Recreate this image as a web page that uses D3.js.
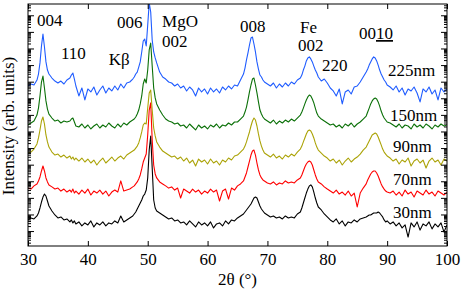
<!DOCTYPE html>
<html>
<head>
<meta charset="utf-8">
<script src="https://cdn.jsdelivr.net/npm/d3@7"></script>
<style>
body { margin: 0; background: #fff; }
</style>
</head>
<body>
<script>
// 2theta positions (finer around the peaks)
var twoTheta = [
  30, 30.5, 31, 31.5,
  31.75, 32, 32.25, 32.5, 32.75, 33, 33.25, 33.5,
  34, 34.5, 35, 35.5, 36, 36.5,
  37, 37.25, 37.5, 37.75, 38,
  38.5, 39, 39.5, 40, 40.5, 41, 41.5, 42, 42.5, 43, 43.5, 44, 44.5, 45, 45.5, 46, 46.5, 47, 47.5,
  47.75, 48, 48.25, 48.5, 48.75, 49, 49.25, 49.5, 49.75, 50, 50.25, 50.5, 50.75, 51, 51.25, 51.5,
  52, 52.5, 53, 53.5, 54, 54.5, 55, 55.5, 56, 56.5, 57, 57.5, 58, 58.5, 59, 59.5, 60, 60.5, 61, 61.5, 62, 62.5, 63, 63.5, 64, 64.5, 65, 65.5, 66,
  66.25, 66.5, 66.75, 67, 67.25, 67.5, 67.75, 68, 68.25, 68.5, 68.75, 69, 69.25, 69.5,
  70, 70.5, 71, 71.5, 72, 72.5, 73, 73.5, 74, 74.5, 75, 75.5,
  75.75, 76, 76.25, 76.5, 76.75, 77, 77.25, 77.5, 77.75, 78, 78.25, 78.5,
  79, 79.5, 80, 80.5, 81, 81.5, 82, 82.5, 83, 83.5, 84, 84.5, 85, 85.5, 86, 86.5,
  86.75, 87, 87.25, 87.5, 87.75, 88, 88.25, 88.5, 88.75, 89, 89.25, 89.5, 89.75, 90,
  90.5, 91, 91.5, 92, 92.5, 93, 93.5, 94, 94.5, 95, 95.5, 96, 96.5, 97, 97.5, 98, 98.5, 99, 99.5, 100
];

// log10(intensity), curves already shifted as in the figure
var log225 = [
  9.74, 9.86, 9.80, 10.10,
  10.46, 11.13, 12.15, 12.87, 12.09, 11.19, 10.70, 10.46,
  10.22, 10.04, 9.92, 10.04, 9.86, 10.10,
  10.22, 10.40, 10.52, 10.16, 9.74,
  9.14, 9.62, 8.90, 9.56, 9.38, 9.68, 9.20, 9.50, 9.74, 9.32, 9.62, 9.44, 9.74, 9.50, 9.86, 9.62, 9.92, 9.98, 10.16,
  10.28, 10.46, 10.58, 10.88, 11.19, 11.79, 12.45, 12.57, 12.15, 13.41, 14.75, 14.20, 12.51, 11.79, 11.43, 11.13,
  10.58, 10.28, 10.16, 9.98, 9.92, 9.74, 9.86, 9.62, 9.74, 9.44, 9.68, 9.50, 9.14, 9.62, 9.38, 9.56, 9.26, 9.62, 9.38, 9.56, 9.32, 9.68, 9.50, 9.74, 9.56, 9.80, 9.74, 10.10, 10.46,
  10.82, 11.31, 11.73, 12.21, 12.63, 12.69, 12.27, 11.79, 11.19, 10.76, 10.40, 10.28, 10.10, 9.98,
  9.86, 9.74, 9.92, 9.62, 9.86, 9.68, 9.92, 9.74, 9.98, 9.86, 10.10, 10.22,
  10.40, 10.70, 10.94, 11.25, 11.43, 11.49, 11.37, 11.19, 10.94, 10.70, 10.52, 10.28,
  10.04, 10.16, 9.92, 9.62, 9.44, 9.14, 9.56, 8.66, 9.38, 9.50, 9.26, 9.68, 9.74, 9.98, 10.28, 10.58,
  10.76, 11.00, 11.19, 11.37, 11.49, 11.43, 11.25, 11.00, 10.70, 10.46, 10.28, 10.10, 9.98, 9.80,
  9.68, 9.50, 9.74, 9.38, 9.62, 9.20, 9.56, 9.44, 9.68, 9.32, 8.78, 9.56, 9.38, 9.68, 9.26, 9.50, 8.90, 9.62, 9.38, 9.56
];
var log150 = [
  7.39, 7.51, 7.63, 7.99,
  8.41, 9.14, 9.98, 10.34, 9.62, 8.84, 8.35, 8.05,
  7.81, 7.63, 7.69, 7.51, 7.63, 7.57,
  7.63, 7.75, 7.81, 7.57, 7.33,
  7.27, 7.45, 7.21, 7.39, 7.15, 7.33, 7.45, 7.21, 7.39, 7.27, 7.51, 7.33, 7.21, 7.45, 7.27, 7.51, 7.39, 7.57, 7.69,
  7.75, 7.87, 8.05, 8.29, 8.66, 9.14, 9.86, 10.16, 9.92, 10.70, 11.91, 12.33, 10.94, 9.62, 9.02, 8.66,
  8.29, 7.99, 7.75, 7.63, 7.57, 7.45, 7.51, 7.33, 7.39, 7.21, 7.45, 7.27, 7.09, 7.39, 7.21, 7.33, 7.15, 7.39, 7.27, 7.45, 7.21, 7.39, 7.33, 7.51, 7.39, 7.57, 7.57, 7.75, 7.93,
  8.17, 8.47, 8.90, 9.38, 9.80, 10.16, 10.22, 9.80, 9.32, 8.78, 8.29, 8.05, 7.87, 7.75,
  7.63, 7.51, 7.69, 7.45, 7.63, 7.51, 7.69, 7.57, 7.75, 7.63, 7.81, 7.99,
  8.17, 8.41, 8.66, 8.90, 9.08, 9.20, 9.14, 8.96, 8.72, 8.41, 8.11, 7.93,
  7.75, 7.63, 7.51, 7.39, 7.45, 7.27, 7.39, 7.21, 7.45, 7.33, 7.51, 7.27, 7.45, 7.57, 7.75, 7.93,
  8.17, 8.41, 8.66, 8.84, 8.96, 9.02, 8.96, 8.78, 8.53, 8.23, 7.99, 7.81, 7.69, 7.57,
  7.51, 7.39, 7.27, 7.45, 7.21, 7.39, 7.33, 7.15, 7.45, 7.27, 7.39, 7.21, 7.45, 7.33, 7.15, 7.39, 7.27, 7.45, 7.33, 7.39
];
var log90 = [
  5.70, 5.76, 5.94, 6.25,
  6.61, 7.09, 7.63, 7.87, 7.45, 6.79, 6.37, 6.06,
  5.76, 5.58, 5.64, 5.46, 5.58, 5.40,
  5.52, 5.34, 5.46, 5.28, 5.40,
  5.22, 5.40, 5.16, 5.34, 5.10, 5.28, 4.98, 5.22, 5.40, 5.10, 5.28, 5.46, 5.22, 5.40, 5.52, 5.34, 5.58, 5.70, 5.82,
  5.88, 6.00, 6.12, 6.31, 6.61, 6.97, 7.39, 7.51, 7.45, 8.41, 9.32, 9.50, 8.29, 7.21, 6.73, 6.37,
  6.06, 5.82, 5.70, 5.58, 5.46, 5.52, 5.34, 5.46, 5.22, 5.40, 5.10, 5.28, 4.92, 5.34, 5.16, 5.28, 5.04, 5.34, 5.10, 5.22, 4.98, 5.28, 5.16, 5.40, 5.28, 5.52, 5.58, 5.76, 5.94,
  6.12, 6.37, 6.67, 6.97, 7.33, 7.63, 7.81, 7.69, 7.33, 6.85, 6.43, 6.12, 5.88, 5.70,
  5.58, 5.46, 5.64, 5.40, 5.52, 5.34, 5.58, 5.46, 5.64, 5.52, 5.76, 5.94,
  6.12, 6.37, 6.61, 6.85, 7.03, 7.09, 7.03, 6.85, 6.61, 6.31, 6.06, 5.88,
  5.70, 5.52, 5.40, 5.22, 5.34, 5.10, 5.28, 4.98, 5.22, 5.40, 5.16, 5.34, 5.46, 5.64, 5.88, 6.06,
  6.25, 6.43, 6.61, 6.79, 6.85, 6.91, 6.85, 6.67, 6.43, 6.19, 5.94, 5.76, 5.64, 5.52,
  5.40, 5.22, 5.34, 5.04, 5.28, 5.16, 5.40, 4.92, 5.22, 5.34, 5.10, 5.28, 4.80, 5.22, 5.40, 5.16, 5.28, 4.98, 5.34, 5.22
];
var log70 = [
  3.59, 3.53, 3.72, 3.84,
  4.02, 4.26, 4.62, 4.92, 4.62, 4.20, 3.96, 3.78,
  3.66, 3.53, 3.59, 3.41, 3.53, 3.35,
  3.47, 3.35, 3.53, 3.29, 3.41,
  3.23, 3.47, 3.29, 3.53, 3.17, 3.41, 3.29, 3.47, 3.23, 3.41, 3.11, 3.35, 3.47, 3.35, 4.02, 3.41, 3.47, 3.53, 3.66,
  3.72, 3.84, 3.96, 4.14, 4.38, 4.74, 5.16, 5.40, 5.64, 6.79, 8.29, 8.72, 6.49, 4.98, 4.44, 4.20,
  3.96, 3.84, 3.72, 3.59, 3.66, 3.47, 3.59, 2.99, 3.53, 3.41, 3.29, 3.53, 3.35, 3.47, 3.23, 3.41, 3.29, 3.53, 3.35, 3.47, 2.81, 3.41, 3.53, 2.93, 3.59, 3.47, 3.72, 3.84, 4.02,
  4.26, 4.50, 4.86, 5.22, 5.58, 5.82, 5.88, 5.58, 5.10, 4.68, 4.38, 4.20, 4.08, 4.02,
  3.90, 3.84, 3.96, 3.78, 3.90, 3.84, 4.02, 3.90, 3.96, 3.90, 4.08, 4.20,
  4.38, 4.62, 4.86, 5.04, 5.16, 5.22, 5.16, 4.98, 4.68, 4.38, 4.14, 3.96,
  3.84, 3.66, 3.53, 3.41, 3.29, 3.47, 3.23, 3.35, 3.17, 3.41, 3.11, 3.29, 2.45, 3.29, 3.59, 3.84,
  4.08, 4.26, 4.44, 4.56, 4.62, 4.62, 4.50, 4.32, 4.08, 3.84, 3.66, 3.53, 3.41, 3.35,
  3.29, 3.41, 3.17, 3.35, 3.11, 3.47, 3.23, 3.35, 3.05, 3.41, 3.29, 3.17, 3.47, 3.23, 3.35, 3.11, 3.41, 3.29, 3.17, 3.35
];
var log30 = [
  1.67, 1.79, 1.73, 1.91,
  2.09, 2.39, 2.75, 3.05, 3.23, 3.11, 2.81, 2.51,
  2.21, 1.97, 1.79, 1.85, 1.67, 1.73,
  1.55, 1.67, 1.49, 1.61, 1.43,
  1.55, 1.31, 1.49, 1.37, 1.61, 1.25, 1.49, 1.37, 1.55, 1.31, 1.49, 1.43, 1.61, 1.49, 1.91, 1.55, 1.67, 1.79, 1.91,
  2.03, 2.15, 2.33, 2.51, 2.69, 2.87, 3.11, 3.23, 3.47, 4.20, 5.88, 6.73, 4.80, 2.87, 2.39, 2.21,
  2.09, 1.97, 1.85, 1.73, 1.79, 1.61, 1.67, 1.49, 1.55, 1.37, 1.61, 1.43, 1.25, 1.55, 1.37, 1.49, 1.31, 1.55, 1.19, 1.43, 1.49, 1.31, 1.61, 1.43, 1.67, 1.61, 1.79, 1.91, 2.03,
  2.15, 2.27, 2.39, 2.51, 2.63, 2.81, 2.99, 3.05, 2.99, 2.75, 2.51, 2.33, 2.21, 2.09,
  1.97, 1.85, 1.91, 1.79, 1.85, 1.73, 1.91, 1.79, 1.85, 1.79, 2.03, 2.15,
  2.39, 2.69, 2.99, 3.29, 3.53, 3.72, 3.78, 3.66, 3.35, 2.99, 2.69, 2.45,
  2.27, 2.03, 1.85, 1.67, 1.55, 1.73, 1.43, 1.61, 1.31, 1.55, 1.49, 1.67, 1.55, 1.73, 1.79, 1.85,
  1.91, 1.97, 1.97, 2.03, 2.09, 2.09, 2.09, 2.15, 2.09, 1.97, 1.85, 1.67, 1.55, 1.61,
  1.43, 1.55, 1.31, 1.49, 1.19, 1.37, 0.64, 1.49, 1.25, 1.55, 1.06, 1.43, 1.31, 1.55, 1.13, 1.43, 1.25, 1.49, 0.94, 1.37
];

var thicknesses = ["30nm", "70nm", "90nm", "150nm", "225nm"];
var xTicks = [30, 40, 50, 60, 70, 80, 90, 100];

var w = 463, h = 291;
var margin = { top: 4, right: 16, bottom: 45, left: 28 };
var fuente = "'Liberation Serif', 'Times New Roman', serif";

var colores = ["#000000", "#ff0000", "#aba307", "#0b7008", "#1f5cff"];
var curvas = [log30, log70, log90, log150, log225];

// peak and thickness labels, placed in data units (2theta, log10 I)
var notas = [
  { t: "004", x: 31.5, y: 13.35 },
  { t: "110", x: 35.5, y: 11.37 },
  { t: "K\u03b2", x: 43.5, y: 11.0 },
  { t: "006", x: 44.85, y: 13.23 },
  { t: "MgO", x: 52.4, y: 13.32 },
  { t: "002", x: 52.4, y: 12.09 },
  { t: "008", x: 65.4, y: 13.02 },
  { t: "Fe", x: 75.45, y: 12.96 },
  { t: "002", x: 75.1, y: 11.82 },
  { t: "220", x: 79.1, y: 10.67 }
];
var notasGrosor = [
  { x: 90.14, y: 10.34 },
  { x: 90.48, y: 7.66 },
  { x: 90.98, y: 5.76 },
  { x: 90.98, y: 3.78 },
  { x: 90.98, y: 1.76 }
];

var svg = d3.select("body").append("svg")
  .attr("width", w).attr("height", h)
  .style("font-family", fuente);

var x = d3.scaleLinear().domain([30, 100]).range([margin.left, w - margin.right]);
var y = d3.scaleLog().domain([Math.pow(10, 0.1), Math.pow(10, 14.68)]).range([h - margin.bottom, margin.top]);

svg.append("clipPath").attr("id", "area")
  .append("rect")
  .attr("x", margin.left).attr("y", margin.top)
  .attr("width", w - margin.left - margin.right)
  .attr("height", h - margin.top - margin.bottom);

var linea = d3.line()
  .x(function (d, i) { return x(twoTheta[i]); })
  .y(function (d) { return y(Math.pow(10, d)); });

svg.append("g").attr("clip-path", "url(#area)")
  .selectAll("path")
  .data(curvas)
  .enter()
  .append("path")
  .attr("d", linea)
  .attr("fill", "none")
  .attr("stroke", function (d, i) { return colores[i]; })
  .attr("stroke-width", 1.1)
  .attr("stroke-linejoin", "round");

// log ticks: decades long, 2..9 short
var mayores = [], menores = [];
for (var k = 0; k <= 14; k++) {
  for (var m = 1; m <= 9; m++) {
    var v = m * Math.pow(10, k);
    if (v < y.domain()[0] || v > y.domain()[1]) continue;
    if (m === 1) mayores.push(v); else menores.push(v);
  }
}

function estiloEje(g) {
  g.select(".domain").remove();
  g.attr("font-family", null).attr("font-size", null);
  g.selectAll("line").attr("stroke", "#000");
  g.selectAll("text").attr("fill", "#000")
    .style("font-size", "17px")
    .style("font-family", fuente);
}

var x0 = margin.left, x1 = w - margin.right;
var y0 = h - margin.bottom, y1 = margin.top;

svg.append("g").attr("transform", "translate(0," + y0 + ")")
  .call(d3.axisBottom(x).tickValues(xTicks).tickSize(-5).tickPadding(7).tickFormat(d3.format("d")))
  .call(estiloEje);
svg.append("g").attr("transform", "translate(0," + y1 + ")")
  .call(d3.axisTop(x).tickValues(xTicks).tickSize(-5).tickFormat(""))
  .call(estiloEje);

svg.append("g").attr("transform", "translate(" + x0 + ",0)")
  .call(d3.axisLeft(y).tickValues(mayores).tickSize(-6).tickFormat(""))
  .call(estiloEje);
svg.append("g").attr("transform", "translate(" + x0 + ",0)")
  .call(d3.axisLeft(y).tickValues(menores).tickSize(-3).tickFormat(""))
  .call(estiloEje);
svg.append("g").attr("transform", "translate(" + x1 + ",0)")
  .call(d3.axisRight(y).tickValues(mayores).tickSize(-6).tickFormat(""))
  .call(estiloEje);
svg.append("g").attr("transform", "translate(" + x1 + ",0)")
  .call(d3.axisRight(y).tickValues(menores).tickSize(-3).tickFormat(""))
  .call(estiloEje);

svg.append("rect")
  .attr("x", x0).attr("y", y1)
  .attr("width", x1 - x0).attr("height", y0 - y1)
  .attr("fill", "none").attr("stroke", "#000").attr("stroke-width", 1);

svg.selectAll(".nota")
  .data(notas)
  .enter()
  .append("text")
  .attr("class", "nota")
  .attr("x", function (d) { return x(d.x); })
  .attr("y", function (d) { return y(Math.pow(10, d.y)); })
  .style("font-size", "17px")
  .text(function (d) { return d.t; });

// 0010 with the "10" underlined
var t0010 = svg.append("text")
  .attr("x", x(85.3)).attr("y", y(Math.pow(10, 12.57)))
  .style("font-size", "17px");
t0010.append("tspan").text("00");
t0010.append("tspan").attr("text-decoration", "underline").text("10");

svg.selectAll(".grosor")
  .data(thicknesses)
  .enter()
  .append("text")
  .attr("class", "grosor")
  .attr("x", function (d, i) { return x(notasGrosor[4 - i].x); })
  .attr("y", function (d, i) { return y(Math.pow(10, notasGrosor[4 - i].y)); })
  .style("font-size", "17px")
  .text(function (d) { return d; });

svg.append("text")
  .attr("transform", "translate(14," + ((y0 + y1) / 2 + 1) + ") rotate(-90)")
  .attr("text-anchor", "middle")
  .style("font-size", "17px")
  .text("Intensity (arb. units)");

svg.append("text")
  .attr("x", (x0 + x1) / 2)
  .attr("y", 285)
  .attr("text-anchor", "middle")
  .style("font-size", "17px")
  .text("2\u03b8 (\u00b0)");
</script>
</body>
</html>
